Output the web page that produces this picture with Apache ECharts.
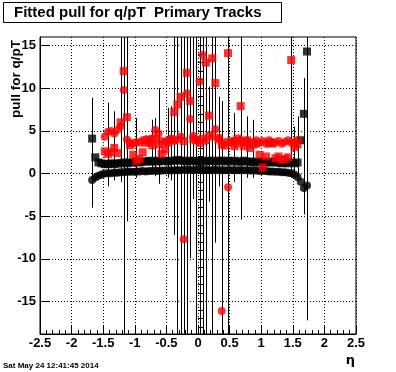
<!DOCTYPE html>
<html>
<head>
<meta charset="utf-8">
<script src="https://cdn.jsdelivr.net/npm/echarts@6/dist/echarts.min.js"></script>
<style>
html,body{margin:0;padding:0;background:#fff;}
#chart{width:396px;height:372px;}
</style>
</head>
<body>
<div id="chart"></div>
<script>
// ---- data ----
const etaBins = [-1.725,-1.675,-1.625,-1.575,-1.525,-1.475,-1.425,-1.375,-1.325,-1.275,-1.225,-1.175,-1.125,-1.075,-1.025,-0.975,-0.925,-0.875,-0.825,-0.775,-0.725,-0.675,-0.625,-0.575,-0.525,-0.475,-0.425,-0.375,-0.325,-0.275,-0.225,-0.175,-0.125,-0.075,-0.025,0.025,0.075,0.125,0.175,0.225,0.275,0.325,0.375,0.425,0.475,0.525,0.575,0.625,0.675,0.725,0.775,0.825,0.875,0.925,0.975,1.025,1.075,1.125,1.175,1.225,1.275,1.325,1.375,1.425,1.475,1.525,1.575,1.625,1.675,1.725];

const blackSquares = [null,4.1,1.9,1.3,1.2,1.1,1.1,1.2,1.1,1.2,1.2,1.3,1.2,1.3,1.3,1.4,1.3,1.4,1.4,1.5,1.4,1.5,1.4,1.5,1.5,1.4,1.5,1.5,1.6,1.5,1.5,1.4,1.5,1.5,1.4,1.5,1.5,1.4,1.5,1.5,1.4,1.5,1.5,1.4,1.5,1.4,1.5,1.4,1.4,1.5,1.4,1.4,1.3,1.4,1.3,1.4,1.3,1.3,1.4,1.3,1.3,1.2,1.3,1.2,1.3,1.2,1.3,3.9,7.0,14.3];

const blackCircles = [null,-0.75,-0.45,-0.25,-0.1,0.0,0.05,0.05,0.1,0.1,0.15,0.15,0.2,0.2,0.2,0.25,0.25,0.3,0.25,0.3,0.3,0.35,0.3,0.35,0.35,0.4,0.35,0.4,0.4,0.4,0.45,0.4,0.45,0.4,0.45,0.45,0.4,0.45,0.4,0.4,0.45,0.4,0.4,0.4,0.4,0.4,0.4,0.4,0.4,0.4,0.4,0.35,0.35,0.35,0.3,0.3,0.3,0.25,0.25,0.2,0.2,0.15,0.15,0.1,0.05,-0.1,-0.4,-0.95,-1.7,-1.4];

const redSquares = [null,null,null,null,null,2.6,2.3,2.5,3.0,2.4,6.0,12.0,6.6,3.3,2.2,1.5,1.7,2.5,3.6,4.0,3.3,4.1,3.4,2.3,2.8,3.6,3.9,7.2,8.1,9.0,3.8,11.8,8.5,4.0,3.9,3.6,4.1,13.0,6.8,13.5,10.6,4.0,3.4,3.3,14.1,3.8,3.2,4.1,7.9,3.2,3.9,3.0,3.4,3.5,2.2,0.7,2.0,3.6,3.5,1.8,2.0,1.6,1.7,1.9,13.3,3.1,3.4,null,null,null];

const redCircles = [null,null,null,null,null,4.3,4.9,5.0,4.7,5.1,5.5,9.8,4.0,3.6,3.5,3.7,3.6,3.9,4.0,3.6,4.1,5.1,4.7,3.8,3.7,3.9,4.1,3.8,4.0,4.3,-7.7,9.4,6.4,4.4,4.0,10.8,13.9,3.8,4.5,4.3,5.2,4.2,-16.1,3.7,-1.6,3.6,3.8,3.5,3.9,3.6,3.8,3.5,3.7,3.9,3.6,3.8,3.5,3.9,3.7,3.6,3.8,3.5,3.7,3.9,3.6,3.7,3.9,null,null,null];

// error bars: eta position, lower and upper end
const errEta = [-1.675,-1.425,-1.325,-1.225,-1.175,-1.125,-0.975,-0.725,-0.675,-0.625,-0.475,-0.425,-0.375,-0.325,-0.275,-0.225,-0.175,-0.125,-0.075,-0.025,0.025,0.075,0.125,0.175,0.225,0.275,0.325,0.375,0.475,0.575,0.675,0.775,0.875,1.475,1.525,1.575,1.675,1.725];
const errLo  = [-4.0,-1.5,-0.8,-1.0,-40,-5.6,-0.5,0.2,-0.3,-1.2,-0.5,-0.8,-7.2,-40,-40,-40,-40,-9.9,-3.0,-40,-40,-40,-40,-3.3,-40,-8.1,-1.5,-40,-40,-1.0,-5.4,-0.5,-0.5,-0.5,-0.2,-0.5,-4.8,-17.2];
const errHi  = [8.9,8.3,7.3,40,40,40,6.5,6.3,6.5,10.0,7.7,7.9,40,40,40,40,40,40,40,40,40,40,40,10.2,40,40,9.0,8.5,40,7.1,40,6.7,6.3,40,5.5,6.7,11.2,40];

const yMajorTicks = [-15,-10,-5,0,5,10,15];
const yMinorTicks = [-18,-17,-16,-15,-14,-13,-12,-11,-10,-9,-8,-7,-6,-5,-4,-3,-2,-1,0,1,2,3,4,5,6,7,8,9,10,11,12,13,14,15];
const yRange = [-18.8, 16];
const xRange = [-2.5, 2.5];

const titleText = 'Fitted pull for q/pT  Primary Tracks';
const yTitle = 'pull for q/pT';
const xTitle = 'η';
const dateText = 'Sat May 24 12:41:45 2014';

// ---- build ----
function pts(vals){
  const out = [];
  etaBins.forEach((e,i)=>{ if (vals[i] !== null) out.push([e, vals[i]]); });
  return out;
}
const errData = errEta.map((e,i)=>[e, errLo[i], errHi[i]]);

const FONT = 'Liberation Sans, Arial, Helvetica, sans-serif';
const chart = echarts.init(document.getElementById('chart'), null, {renderer:'canvas'});

const option = {
  animation: false,
  backgroundColor: '#fff',
  grid: {left: 40, right: 40, top: 37, bottom: 38, show: true, borderColor: '#000', borderWidth: 1, backgroundColor: 'transparent', containLabel: false, outerBoundsMode: 'none'},
  xAxis: {
    type: 'value', min: xRange[0], max: xRange[1], interval: 0.5,
    axisLine: {show: true, onZero: false, lineStyle: {color: '#000', width: 1}},
    axisTick: {show: true, inside: true, length: 9, lineStyle: {color: '#000'}},
    minorTick: {show: true, splitNumber: 5, length: 4, lineStyle: {color: '#000'}},
    splitLine: {show: true, lineStyle: {color: '#000', type: [1, 2], width: 1}},
    axisLabel: {show: true, color: '#000', fontFamily: FONT, fontWeight: 'bold', fontSize: 13, margin: 3, showMinLabel: true, showMaxLabel: true, hideOverlap: false}
  },
  yAxis: [{
    type: 'value', min: yRange[0], max: yRange[1], position: 'left',
    axisLine: {show: true, onZero: false, lineStyle: {color: '#000', width: 1}},
    axisTick: {show: true, inside: true, length: 9, customValues: yMajorTicks, lineStyle: {color: '#000'}},
    splitLine: {show: true, lineStyle: {color: '#000', type: [1, 2], width: 1}},
    axisLabel: {show: true, customValues: yMajorTicks, color: '#000', fontFamily: FONT, fontWeight: 'bold', fontSize: 13, margin: 4}
  }, {
    type: 'value', min: yRange[0], max: yRange[1], position: 'left',
    axisLine: {show: false},
    axisTick: {show: true, inside: true, length: 5, customValues: yMinorTicks, lineStyle: {color: '#000'}},
    splitLine: {show: false},
    axisLabel: {show: false}
  }],
  graphic: [
    {type: 'rect', shape: {x: 3.5, y: 2.5, width: 278, height: 20}, style: {fill: '#fff', stroke: '#000', lineWidth: 1}, z: 100},
    {type: 'text', x: 14, y: 13, z: 101, style: {text: titleText, font: 'bold 15px ' + FONT, fill: '#000', textAlign: 'left', textVerticalAlign: 'middle'}},
    {type: 'text', x: 16.5, y: 118, rotation: Math.PI/2, z: 101, style: {text: yTitle, font: 'bold 13.5px ' + FONT, fill: '#000', textAlign: 'left', textVerticalAlign: 'middle'}},
    {type: 'text', x: 355, y: 361, z: 101, style: {text: xTitle, font: 'bold 13px DejaVu Sans, ' + FONT, fill: '#000', textAlign: 'right', textVerticalAlign: 'middle'}},
    {type: 'text', x: 3, y: 366, z: 101, style: {text: dateText, font: 'bold 8px ' + FONT, fill: '#000', textAlign: 'left', textVerticalAlign: 'middle'}}
  ],
  series: [
    {
      type: 'custom', name: 'errors', clip: true, z: 2,
      data: errData,
      encode: {x: 0, y: [1, 2]},
      renderItem: function(params, api){
        const x = api.value(0);
        const p1 = api.coord([x, api.value(1)]);
        const p2 = api.coord([x, api.value(2)]);
        const cx = Math.round(p1[0]) + 0.5;
        return {type: 'line', shape: {x1: cx, y1: p1[1], x2: cx, y2: p2[1]}, style: {stroke: '#000', lineWidth: 1}};
      }
    },
    {type: 'scatter', name: 'black squares', data: pts(blackSquares), symbol: 'rect', symbolSize: 8, itemStyle: {color: '#000'}, z: 3, clip: true},
    {type: 'scatter', name: 'black circles', data: pts(blackCircles), symbol: 'circle', symbolSize: 8, itemStyle: {color: '#000'}, z: 3, clip: true},
    {type: 'scatter', name: 'red squares', data: pts(redSquares), symbol: 'rect', symbolSize: 8, itemStyle: {color: '#ff0000'}, z: 4, clip: true},
    {type: 'scatter', name: 'red circles', data: pts(redCircles), symbol: 'circle', symbolSize: 8, itemStyle: {color: '#ff0000'}, z: 4, clip: true}
  ]
};
chart.setOption(option);
</script>
</body>
</html>
